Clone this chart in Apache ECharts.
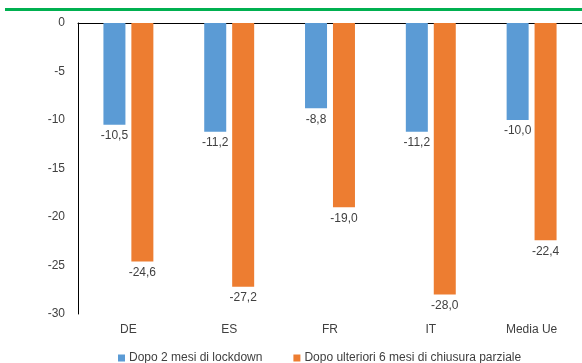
<!DOCTYPE html>
<html>
<head>
<meta charset="utf-8">
<script src="https://cdn.jsdelivr.net/npm/echarts@6/dist/echarts.min.js"></script>
<style>
html, body { margin: 0; padding: 0; background: #fff; }
#chart { width: 582px; height: 363px; }
</style>
</head>
<body>
<div id="chart"></div>
<script>
// dati
var categorie = ['DE', 'ES', 'FR', 'IT', 'Media Ue'];
var lockdown = [-10.5, -11.2, -8.8, -11.2, -10.0];
var chiusuraParziale = [-24.6, -27.2, -19.0, -28.0, -22.4];
var nomiSerie = ['Dopo 2 mesi di lockdown', 'Dopo ulteriori 6 mesi di chiusura parziale'];

var fontBase = '"Liberation Sans", Arial, sans-serif';
var fs = 12;

function etichetta(p) {
	return p.value.toFixed(1).replace('.', ',');
}

var chart = echarts.init(document.getElementById('chart'));
chart.setOption({
	animation: false,
	textStyle: { fontFamily: fontBase },
	graphic: [{
		type: 'rect',
		shape: { x: 5, y: 8, width: 577, height: 3 },
		style: { fill: '#00B050' }
	}],
	grid: { left: 78, right: -4, top: 23, bottom: 49 },
	legend: {
		left: 113,
		top: 347,
		itemWidth: 7,
		itemHeight: 7,
		itemGap: 31,
		icon: 'rect',
		textStyle: { color: '#404040', fontSize: fs, fontFamily: fontBase, padding: [0, 0, 0, -1] },
		data: nomiSerie
	},
	xAxis: [{
		type: 'category',
		position: 'bottom',
		data: categorie,
		axisLine: { show: false, onZero: false },
		axisTick: { show: false },
		axisLabel: { color: '#404040', fontSize: fs, fontFamily: fontBase, margin: 10 }
	}, {
		type: 'category',
		position: 'top',
		data: categorie,
		axisLine: { show: true, lineStyle: { color: '#000', width: 1 } },
		axisTick: { show: false },
		axisLabel: { show: false }
	}],
	yAxis: {
		type: 'value',
		min: -30,
		max: 0,
		interval: 5,
		axisLine: { show: true, lineStyle: { color: '#000', width: 1 } },
		axisTick: { show: false },
		splitLine: { show: false },
		axisLabel: { color: '#404040', fontSize: fs, fontFamily: fontBase, margin: 13 }
	},
	series: [{
		name: nomiSerie[0],
		type: 'bar',
		data: lockdown,
		barWidth: 22,
		barGap: '27%',
		itemStyle: { color: '#5B9BD5' },
		label: { show: true, position: 'bottom', distance: 5, color: '#404040', fontSize: fs, fontFamily: fontBase, formatter: etichetta }
	}, {
		name: nomiSerie[1],
		type: 'bar',
		data: chiusuraParziale,
		barWidth: 22,
		barGap: '27%',
		itemStyle: { color: '#ED7D31' },
		label: { show: true, position: 'bottom', distance: 5, color: '#404040', fontSize: fs, fontFamily: fontBase, formatter: etichetta }
	}]
});
</script>
</body>
</html>
